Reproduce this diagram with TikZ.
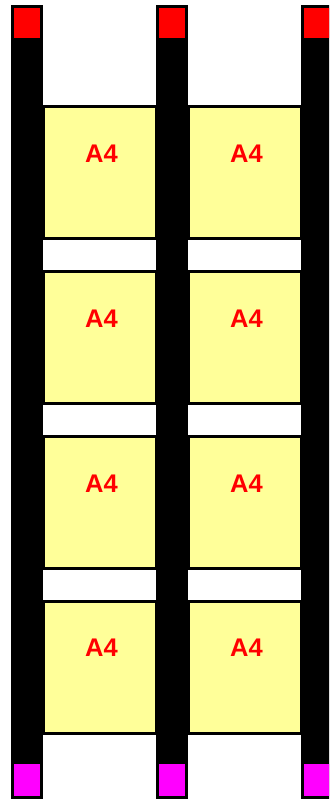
\documentclass[tikz,border=0pt]{standalone}
\usepackage{fontspec}
\setmainfont{Liberation Sans}[BoldFont={Liberation Sans Bold}]
\newfontfamily\labelfont{Liberation Sans Bold}
\definecolor{paleyellow}{HTML}{FFFF99}
\definecolor{capred}{HTML}{FF0000}
\definecolor{capmagenta}{HTML}{FF00FF}
\tikzset{
  x=1pt, y=-1pt,
  pillar/.style={fill=black, inner sep=0pt, minimum width=32pt, minimum height=794pt, anchor=north},
  topcap/.style={fill=capred, inner sep=0pt, minimum width=26pt, minimum height=30pt},
  botcap/.style={fill=capmagenta, inner sep=0pt, minimum width=26pt, minimum height=32pt},
  sheet/.style={fill=paleyellow, draw=black, line width=3pt, inner sep=0pt,
                minimum width=113pt, minimum height=132pt, anchor=north},
  sheetlabel/.style={text=capred, font=\labelfont\fontsize{25.5}{28}\selectfont, inner sep=0pt}
}
\begin{document}
\begin{tikzpicture}
  \useasboundingbox (0,0) rectangle (329,799);
  \clip (0,0) rectangle (329,799);
  % sheets between the pillars
  \foreach \r in {1,...,4} {
    \pgfmathsetmacro{\ytop}{105.5+164.7*(\r-1)}
    \node[sheet] (sheetL\r) at (99.5,\ytop) {};
    \node[sheet] (sheetR\r) at (244.5,\ytop) {};
    \node[sheetlabel] (labelL\r) at ([xshift=2pt,yshift=-48.5pt]sheetL\r.north) {A4};
    \node[sheetlabel] (labelR\r) at ([xshift=2pt,yshift=-48.5pt]sheetR\r.north) {A4};
  }
  % pillars with their end caps
  \foreach \name/\cx in {pl/27, pm/172, pr/317} {
    \node[pillar] (\name) at (\cx,5) {};
    \node[topcap] (\name top) at (\cx,23) {};
    \node[botcap] (\name bot) at (\cx,780) {};
  }
\end{tikzpicture}
\end{document}
